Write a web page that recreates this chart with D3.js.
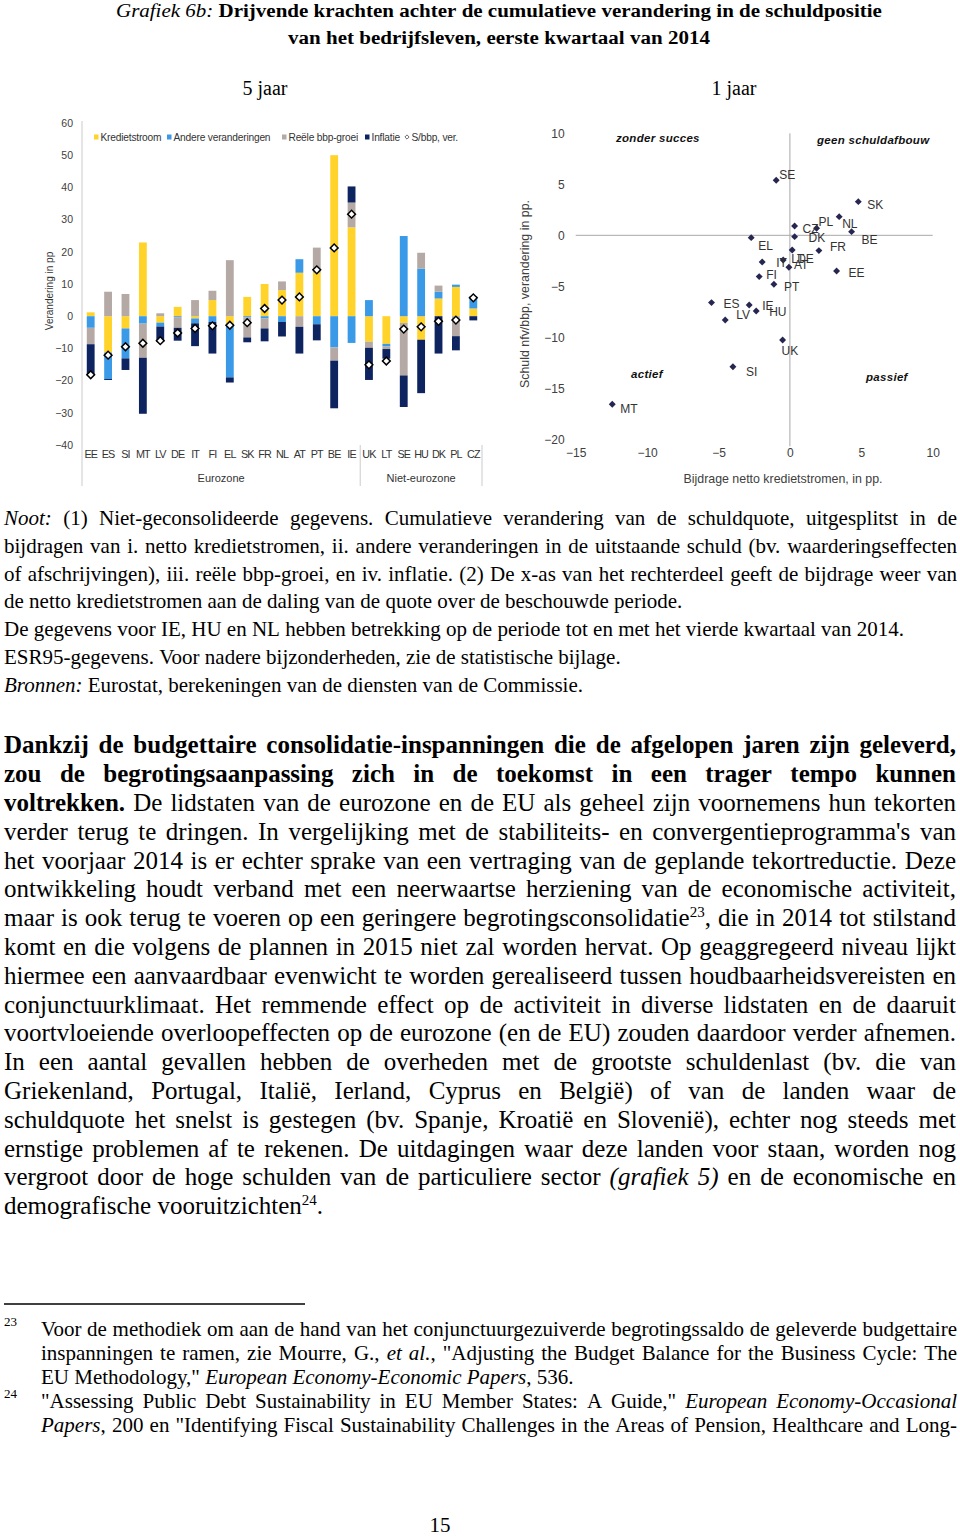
<!DOCTYPE html>
<html><head><meta charset="utf-8">
<script src="https://cdn.jsdelivr.net/npm/d3@7"></script>
<style>
html,body{margin:0;padding:0;background:#fff;}
svg{display:block;}
</style></head>
<body>
<svg id="page" width="960" height="1537"></svg>
<script>
// ---------------- DATA ----------------
// Left panel: 5-year cumulative change (pp), stacked contributions
const categories   = ["EE","ES","SI","MT","LV","DE","IT","FI","EL","SK","FR","NL","AT","PT","BE","IE","UK","LT","SE","HU","DK","PL","CZ"];
const kredietstroom = [1.2,-11.3,-3.8,22.9,-2.0,2.9,-0.7,5.0,-2.3,6.0,10.0,8.1,13.5,13.5,50.0,27.6,-7.9,-8.6,-2.1,-7.3,5.5,9.1,2.4];
const andere        = [-3.6,-8.2,-9.3,-2.3,-1.2,-0.3,-1.5,-1.8,-16.7,-0.3,-0.7,-1.8,4.2,-2.5,-9.7,-8.3,5.0,-0.8,24.9,14.8,2.1,0.7,3.8];
const reele         = [-5.1,7.6,6.9,-10.6,0.9,-3.3,5.0,2.9,17.4,-6.3,-3.1,2.7,-3.3,7.8,-4.1,7.7,-1.9,-0.8,-16.3,4.9,1.9,-6.2,0];
const inflatie      = [-9.6,-0.3,-3.6,-17.4,-4.8,-4.0,-7.1,-9.8,-1.6,-1.5,-4.0,-4.5,-8.3,-5.0,-14.8,5.0,-10.0,-3.0,-9.8,-16.6,-11.6,-4.4,-1.3];
const totaal        = [-18.2,-12.1,-9.5,-8.4,-7.6,-5.2,-3.8,-3.0,-2.8,-2.0,2.4,5.0,6.0,14.4,21.2,31.7,-15.1,-13.9,-4.0,-3.3,-1.6,-1.2,5.7];
const seriesNames  = ["Kredietstroom","Andere veranderingen","Reële bbp-groei","Inflatie"];
const totalName    = "S/bbp, ver.";
const barTicks     = [60,50,40,30,20,10,0,-10,-20,-30,-40];
const groupNames   = ["Eurozone","Niet-eurozone"];
const groupFirst   = ["EE","UK"];
const groupLast    = ["IE","CZ"];

// Right panel: 1-year
const scatCountries = ["SE","SK","NL","PL","CZ","BE","DK","EL","DE","FR","IT","LT","AT","EE","FI","PT","ES","IE","HU","LV","UK","SI","MT"];
const scatX = [-0.96,4.79,3.45,1.87,0.33,4.32,0.33,-2.71,0.16,2.03,-1.94,-0.47,-0.07,3.27,-2.15,-1.12,-5.49,-2.85,-2.36,-4.53,-0.51,-3.99,-12.44];
const scatY = [5.39,3.30,1.83,0.69,0.92,0.36,-0.13,-0.23,-1.44,-1.50,-2.61,-2.42,-3.14,-3.50,-4.05,-4.80,-6.60,-6.83,-7.42,-8.30,-10.26,-12.88,-16.57];
const scatXTicks = [-15,-10,-5,0,5,10];
const scatYTicks = [10,5,0,-5,-10,-15,-20];
const quadrantNames = ["zonder succes","geen schuldafbouw","actief","passief"];

// ---------------- STYLE / LAYOUT ----------------
const SANS = "Liberation Sans, Arial, sans-serif";
const SERIF = "Liberation Serif, 'Times New Roman', serif";
const seriesColors = ["#FFD32A","#3A9AE8","#B4A9A4","#0E2460"];
const labelOffsets = { // [dx, dy] of label start/baseline relative to point
  SE:[3,-1], SK:[9,7], NL:[3,11], PL:[2,-2], CZ:[8,7], BE:[10,12], DK:[14,5], EL:[7,12],
  DE:[5,13], FR:[11,0], IT:[14,5], LT:[8,3], AT:[5,2], EE:[12,6], FI:[7,2], PT:[10,7],
  ES:[12,5], IE:[13,5], HU:[13,5], LV:[11,-1], UK:[-1,15], SI:[13,9], MT:[8,9]
};
const quadrantPos = [[616,141.5],[817,144],[631,378],[866,380.5]];
const legendX = [94,167,282,365,405];

const svg = d3.select("#page");

// ---------------- TEXT HELPER ----------------
function splitWords(segs){
  const words=[]; let cur=[];
  segs.forEach(([t,st])=>{
    const parts=t.split(" ");
    parts.forEach((p,k)=>{
      if(k>0){ if(cur.length) words.push(cur); cur=[]; }
      if(p.length) cur.push([p,st]);
    });
  });
  if(cur.length) words.push(cur);
  return words;
}
function renderLine(parent, segs, o){
  if(typeof segs==="string") segs=[[segs,o.style||""]];
  const words=splitWords(segs);
  const g=parent.append("g");
  const nodes=words.map(w=>{
    const t=g.append("text").attr("y",o.y).attr("font-family",o.family||SERIF)
      .attr("font-size",o.size).attr("fill","#000");
    let shift=0;
    w.forEach(([txt,st])=>{
      const ts=t.append("tspan").text(txt);
      let target=0;
      if(st==="i"||st==="bi") ts.attr("font-style","italic");
      if(st==="b"||st==="bi") ts.attr("font-weight","bold");
      if(st==="sup"){ ts.attr("font-size",o.size*0.6); target=-o.size*0.38; }
      if(target!==shift){ ts.attr("dy",target-shift); shift=target; }
    });
    return t;
  });
  const widths=nodes.map(t=>t.node().getComputedTextLength());
  const sum=d3.sum(widths), n=words.length;
  let gap=o.size*0.25;
  if(o.justify && n>1) gap=(o.x1-o.x0-sum)/(n-1);
  let x=o.fit ? o.x0 : o.x0;
  if(o.cx!==undefined) x=o.cx-(sum+gap*(n-1))/2;
  nodes.forEach((t,i)=>{ t.attr("x",x); x+=widths[i]+gap; });
  if(o.fit){ // stretch glyphs horizontally to span x0..x1
    const total=sum+gap*(n-1);
    const k=(o.x1-o.x0)/total;
    g.attr("transform",`translate(${o.x0},0) scale(${k},1) translate(${-o.x0},0)`);
  }
}

// ---------------- TITLE ----------------
renderLine(svg,[["Grafiek 6b:","i"],[" Drijvende krachten achter de cumulatieve verandering in de schuldpositie","b"]],{x0:116,x1:882,y:16.5,size:19,fit:true});
renderLine(svg,"van het bedrijfsleven, eerste kwartaal van 2014",{x0:288,x1:710,y:44,size:19,style:"b",fit:true});
renderLine(svg,"5 jaar",{cx:265,y:95,size:20});
renderLine(svg,"1 jaar",{cx:734,y:95,size:20});

// ---------------- LEFT: STACKED BARS ----------------
const gB=svg.append("g");
const yB=d3.scaleLinear().domain([-40,60]).range([445,123]);
const xB=d3.scaleBand().domain(categories).range([82,482]).paddingInner(0.55).paddingOuter(0.275);
const rows=categories.map((c,i)=>({cat:c,K:kredietstroom[i],A:andere[i],R:reele[i],I:inflatie[i]}));
const stacked=d3.stack().keys(["K","A","R","I"]).offset(d3.stackOffsetDiverging)(rows);

gB.append("line").attr("x1",82).attr("x2",82).attr("y1",121).attr("y2",486).attr("stroke","#d4d4d4").attr("stroke-width",1.2);

gB.selectAll("g.series").data(stacked).join("g").attr("class","series")
  .attr("fill",(d,i)=>seriesColors[i])
  .selectAll("rect").data(d=>d).join("rect")
  .attr("x",d=>xB(d.data.cat)).attr("width",xB.bandwidth())
  .attr("y",d=>yB(Math.max(d[0],d[1]))).attr("height",d=>Math.abs(yB(d[0])-yB(d[1])));

const diamond=d3.symbol(d3.symbolSquare,30)();
gB.selectAll("path.tot").data(categories).join("path").attr("class","tot")
  .attr("d",diamond)
  .attr("transform",(c,i)=>`translate(${xB(c)+xB.bandwidth()/2},${yB(totaal[i])}) rotate(45)`)
  .attr("fill","#fff").attr("stroke","#000").attr("stroke-width",1.5);

const axB=gB.append("g").attr("transform","translate(82,0)")
  .call(d3.axisLeft(yB).tickValues(barTicks).tickSize(0).tickPadding(9));
axB.select(".domain").remove();
axB.selectAll("text").attr("font-family",SANS).attr("font-size",10.5).attr("fill","#404040");

gB.selectAll("text.cat").data(categories).join("text").attr("class","cat")
  .attr("x",c=>xB(c)+xB.bandwidth()/2).attr("y",457.5)
  .attr("text-anchor","middle").attr("font-family",SANS).attr("font-size",10.8)
  .attr("letter-spacing",-0.9).attr("fill","#333").text(c=>c);

// group separators and labels
const half=xB.step()*xB.paddingInner()/2;
const bounds=[82, xB(groupFirst[1])-half, 482];
bounds.slice(1).forEach(bx=>{
  gB.append("line").attr("x1",bx).attr("x2",bx).attr("y1",445).attr("y2",486).attr("stroke","#d4d4d4").attr("stroke-width",1.2);
});
groupNames.forEach((nm,i)=>{
  const a=xB(groupFirst[i]), b=xB(groupLast[i])+xB.bandwidth();
  gB.append("text").attr("x",(a+b)/2).attr("y",482).attr("text-anchor","middle")
    .attr("font-family",SANS).attr("font-size",11).attr("fill","#333").text(nm);
});

gB.append("text").attr("transform","translate(53,291) rotate(-90)").attr("text-anchor","middle")
  .attr("font-family",SANS).attr("font-size",10).attr("fill","#333").text("Verandering in pp");

// legend
const legNames=seriesNames.concat([totalName]);
legNames.forEach((nm,i)=>{
  const lx=legendX[i];
  if(i<4){
    gB.append("rect").attr("x",lx).attr("y",134.5).attr("width",4.5).attr("height",5).attr("fill",seriesColors[i]);
  } else {
    gB.append("path").attr("d",d3.symbol(d3.symbolSquare,9)()).attr("transform",`translate(${lx+2},137) rotate(45)`)
      .attr("fill","#fff").attr("stroke","#555").attr("stroke-width",0.8);
  }
  gB.append("text").attr("x",lx+6.5).attr("y",140.5).attr("font-family",SANS).attr("font-size",10.2)
    .attr("letter-spacing",-0.2).attr("fill","#333").text(nm);
});

// ---------------- RIGHT: SCATTER ----------------
const gS=svg.append("g");
const xS=d3.scaleLinear().domain([-15,10]).range([575.7,932.7]);
const yS=d3.scaleLinear().domain([-20,10]).range([439.3,133.3]);

gS.append("line").attr("x1",xS(-15)).attr("x2",xS(10)).attr("y1",yS(0)).attr("y2",yS(0)).attr("stroke","#a8a8a8").attr("stroke-width",1);
gS.append("line").attr("x1",xS(0)).attr("x2",xS(0)).attr("y1",yS(10)).attr("y2",yS(-20)+7).attr("stroke","#a8a8a8").attr("stroke-width",1);

const axSY=gS.append("g").attr("transform",`translate(${xS(-15)},0)`)
  .call(d3.axisLeft(yS).tickValues(scatYTicks).tickSize(0).tickPadding(11));
axSY.select(".domain").remove();
axSY.selectAll("text").attr("font-family",SANS).attr("font-size",12).attr("fill","#404040");
const axSX=gS.append("g").attr("transform",`translate(0,${yS(-20)})`)
  .call(d3.axisBottom(xS).tickValues(scatXTicks).tickSize(0).tickPadding(9.5));
axSX.select(".domain").remove();
axSX.selectAll("text").attr("font-family",SANS).attr("font-size",12).attr("fill","#404040");

const smallDiamond=d3.symbol(d3.symbolSquare,24)();
gS.selectAll("path.pt").data(scatCountries).join("path").attr("class","pt")
  .attr("d",smallDiamond)
  .attr("transform",(c,i)=>`translate(${xS(scatX[i])},${yS(scatY[i])}) rotate(45)`)
  .attr("fill","#262650");
gS.selectAll("text.lab").data(scatCountries).join("text").attr("class","lab")
  .attr("x",(c,i)=>xS(scatX[i])+labelOffsets[c][0])
  .attr("y",(c,i)=>yS(scatY[i])+labelOffsets[c][1])
  .attr("font-family",SANS).attr("font-size",12).attr("fill","#333").text(c=>c);

quadrantNames.forEach((q,i)=>{
  gS.append("text").attr("x",quadrantPos[i][0]).attr("y",quadrantPos[i][1])
    .attr("font-family",SANS).attr("font-size",11.5).attr("font-weight","bold").attr("font-style","italic")
    .attr("letter-spacing",0.3).attr("fill","#111").text(q);
});
gS.append("text").attr("transform","translate(529,294) rotate(-90)").attr("text-anchor","middle")
  .attr("font-family",SANS).attr("font-size",12.4).attr("fill","#404040").text("Schuld nfv/bbp, verandering in pp.");
gS.append("text").attr("x",783).attr("y",483).attr("text-anchor","middle")
  .attr("font-family",SANS).attr("font-size",12.4).attr("fill","#404040").text("Bijdrage netto kredietstromen, in pp.");

// ---------------- NOTES ----------------
const noteLines=[
  [[["Noot:","i"],[" (1) Niet-geconsolideerde gegevens. Cumulatieve verandering van de schuldquote, uitgesplitst in de",""]],true],
  [[["bijdragen van i. netto kredietstromen, ii. andere veranderingen in de uitstaande schuld (bv. waarderingseffecten",""]],true],
  [[["of afschrijvingen), iii. reële bbp-groei, en iv. inflatie. (2) De x-as van het rechterdeel geeft de bijdrage weer van",""]],true],
  [[["de netto kredietstromen aan de daling van de quote over de beschouwde periode.",""]],false],
  [[["De gegevens voor IE, HU en NL hebben betrekking op de periode tot en met het vierde kwartaal van 2014.",""]],false],
  [[["ESR95-gegevens. Voor nadere bijzonderheden, zie de statistische bijlage.",""]],false],
  [[["Bronnen:","i"],[" Eurostat, berekeningen van de diensten van de Commissie.",""]],false]
];
noteLines.forEach(([segs,j],i)=>renderLine(svg,segs,{x0:4,x1:957,y:525+27.75*i,size:21,justify:j}));

const bodyLines=[
  [[["Dankzij de budgettaire consolidatie-inspanningen die de afgelopen jaren zijn geleverd,","b"]],true],
  [[["zou de begrotingsaanpassing zich in de toekomst in een trager tempo kunnen","b"]],true],
  [[["voltrekken.","b"],[" De lidstaten van de eurozone en de EU als geheel zijn voornemens hun tekorten",""]],true],
  [[["verder terug te dringen. In vergelijking met de stabiliteits- en convergentieprogramma's van",""]],true],
  [[["het voorjaar 2014 is er echter sprake van een vertraging van de geplande tekortreductie. Deze",""]],true],
  [[["ontwikkeling houdt verband met een neerwaartse herziening van de economische activiteit,",""]],true],
  [[["maar is ook terug te voeren op een geringere begrotingsconsolidatie",""],["23","sup"],[", die in 2014 tot stilstand",""]],true],
  [[["komt en die volgens de plannen in 2015 niet zal worden hervat. Op geaggregeerd niveau lijkt",""]],true],
  [[["hiermee een aanvaardbaar evenwicht te worden gerealiseerd tussen houdbaarheidsvereisten en",""]],true],
  [[["conjunctuurklimaat. Het remmende effect op de activiteit in diverse lidstaten en de daaruit",""]],true],
  [[["voortvloeiende overloopeffecten op de eurozone (en de EU) zouden daardoor verder afnemen.",""]],true],
  [[["In een aantal gevallen hebben de overheden met de grootste schuldenlast (bv. die van",""]],true],
  [[["Griekenland, Portugal, Italië, Ierland, Cyprus en België) of van de landen waar de",""]],true],
  [[["schuldquote het snelst is gestegen (bv. Spanje, Kroatië en Slovenië), echter nog steeds met",""]],true],
  [[["ernstige problemen af te rekenen. De uitdagingen waar deze landen voor staan, worden nog",""]],true],
  [[["vergroot door de hoge schulden van de particuliere sector ",""],["(grafiek 5)","i"],[" en de economische en",""]],true],
  [[["demografische vooruitzichten",""],["24","sup"],[".",""]],false]
];
bodyLines.forEach(([segs,j],i)=>renderLine(svg,segs,{x0:4,x1:956,y:753.3+28.8*i,size:25,justify:j}));

// ---------------- FOOTNOTES ----------------
svg.append("line").attr("x1",4).attr("x2",305).attr("y1",1304).attr("y2",1304).attr("stroke","#000").attr("stroke-width",1.3);
renderLine(svg,"23",{x0:4,y:1326,size:13});
renderLine(svg,"24",{x0:4,y:1398,size:13});
const footLines=[
  [[["Voor de methodiek om aan de hand van het conjunctuurgezuiverde begrotingssaldo de geleverde budgettaire",""]],true],
  [[["inspanningen te ramen, zie Mourre, G., ",""],["et al.","i"],[", \"Adjusting the Budget Balance for the Business Cycle: The",""]],true],
  [[["EU Methodology,\" ",""],["European Economy-Economic Papers","i"],[", 536.",""]],false],
  [[["\"Assessing Public Debt Sustainability in EU Member States: A Guide,\" ",""],["European Economy-Occasional","i"]],true],
  [[["Papers","i"],[", 200 en \"Identifying Fiscal Sustainability Challenges in the Areas of Pension, Healthcare and Long-",""]],true]
];
footLines.forEach(([segs,j],i)=>renderLine(svg,segs,{x0:41,x1:957,y:1336+24*i,size:21,justify:j}));

renderLine(svg,"15",{cx:440,y:1531.5,size:21});
</script>
</body></html>
